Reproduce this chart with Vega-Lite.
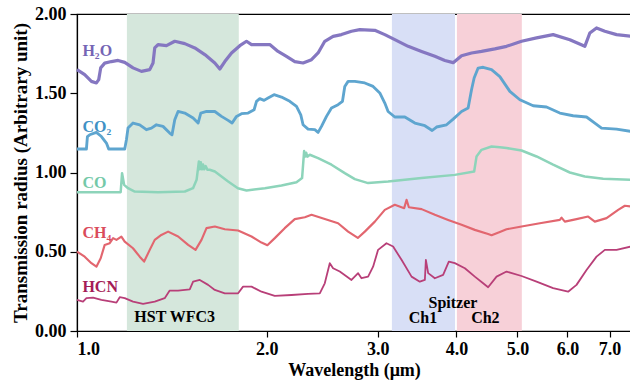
{
  "$schema": "https://vega.github.io/schema/vega-lite/v6.json",
  "width": 554,
  "height": 317,
  "autosize": {"type": "none"},
  "padding": {"left": 77, "top": 14, "right": 0, "bottom": 51},
  "background": "white",
  "view": {"stroke": "black", "strokeWidth": 1.2},
  "config": {
    "font": "Liberation Serif",
    "axis": {"grid": false, "domainColor": "black", "tickColor": "black", "labelColor": "black", "titleColor": "black", "labelFont": "Liberation Serif", "titleFont": "Liberation Serif", "labelFontWeight": "bold", "titleFontWeight": "bold", "labelFontSize": 18, "domainWidth": 1.2, "tickWidth": 1.2}
  },
  "datasets": {
    "bands": [
      {"band": "HST", "start": 1.2, "end": 1.806},
      {"band": "Ch1", "start": 3.16, "end": 3.98},
      {"band": "Ch2", "start": 4.007, "end": 5.08}
    ],
    "spectra": [
      {"m": "H2O", "w": 1.0, "v": 1.649}, {"m": "H2O", "w": 1.0285, "v": 1.617}, {"m": "H2O", "w": 1.054, "v": 1.575}, {"m": "H2O", "w": 1.0735, "v": 1.565}, {"m": "H2O", "w": 1.0826, "v": 1.586}, {"m": "H2O", "w": 1.0904, "v": 1.66}, {"m": "H2O", "w": 1.1065, "v": 1.69}, {"m": "H2O", "w": 1.134, "v": 1.7}, {"m": "H2O", "w": 1.1618, "v": 1.707}, {"m": "H2O", "w": 1.1905, "v": 1.695}, {"m": "H2O", "w": 1.2272, "v": 1.66}, {"m": "H2O", "w": 1.2655, "v": 1.638}, {"m": "H2O", "w": 1.3044, "v": 1.649}, {"m": "H2O", "w": 1.3202, "v": 1.691}, {"m": "H2O", "w": 1.3285, "v": 1.786}, {"m": "H2O", "w": 1.3446, "v": 1.807}, {"m": "H2O", "w": 1.3866, "v": 1.8}, {"m": "H2O", "w": 1.4293, "v": 1.828}, {"m": "H2O", "w": 1.4826, "v": 1.813}, {"m": "H2O", "w": 1.5379, "v": 1.786}, {"m": "H2O", "w": 1.5952, "v": 1.744}, {"m": "H2O", "w": 1.6546, "v": 1.691}, {"m": "H2O", "w": 1.6851, "v": 1.653}, {"m": "H2O", "w": 1.7162, "v": 1.7}, {"m": "H2O", "w": 1.7587, "v": 1.754}, {"m": "H2O", "w": 1.8128, "v": 1.8}, {"m": "H2O", "w": 1.8577, "v": 1.828}, {"m": "H2O", "w": 1.8921, "v": 1.807}, {"m": "H2O", "w": 1.9623, "v": 1.807}, {"m": "H2O", "w": 2.0224, "v": 1.807}, {"m": "H2O", "w": 2.0847, "v": 1.764}, {"m": "H2O", "w": 2.1497, "v": 1.733}, {"m": "H2O", "w": 2.216, "v": 1.7}, {"m": "H2O", "w": 2.2842, "v": 1.691}, {"m": "H2O", "w": 2.3555, "v": 1.712}, {"m": "H2O", "w": 2.413, "v": 1.754}, {"m": "H2O", "w": 2.4727, "v": 1.828}, {"m": "H2O", "w": 2.5489, "v": 1.859}, {"m": "H2O", "w": 2.6284, "v": 1.87}, {"m": "H2O", "w": 2.7263, "v": 1.891}, {"m": "H2O", "w": 2.8103, "v": 1.901}, {"m": "H2O", "w": 2.9686, "v": 1.897}, {"m": "H2O", "w": 3.0791, "v": 1.87}, {"m": "H2O", "w": 3.1937, "v": 1.838}, {"m": "H2O", "w": 3.3534, "v": 1.796}, {"m": "H2O", "w": 3.5218, "v": 1.764}, {"m": "H2O", "w": 3.697, "v": 1.733}, {"m": "H2O", "w": 3.8344, "v": 1.707}, {"m": "H2O", "w": 3.9526, "v": 1.693}, {"m": "H2O", "w": 4.0758, "v": 1.737}, {"m": "H2O", "w": 4.2271, "v": 1.754}, {"m": "H2O", "w": 4.3844, "v": 1.764}, {"m": "H2O", "w": 4.603, "v": 1.78}, {"m": "H2O", "w": 4.8042, "v": 1.796}, {"m": "H2O", "w": 5.075, "v": 1.828}, {"m": "H2O", "w": 5.361, "v": 1.849}, {"m": "H2O", "w": 5.6954, "v": 1.87}, {"m": "H2O", "w": 6.0535, "v": 1.838}, {"m": "H2O", "w": 6.3948, "v": 1.796}, {"m": "H2O", "w": 6.5128, "v": 1.88}, {"m": "H2O", "w": 6.6741, "v": 1.912}, {"m": "H2O", "w": 6.8801, "v": 1.891}, {"m": "H2O", "w": 7.1808, "v": 1.87}, {"m": "H2O", "w": 7.57, "v": 1.859},

      {"m": "CO2", "w": 1.0, "v": 1.148}, {"m": "CO2", "w": 1.035, "v": 1.148}, {"m": "CO2", "w": 1.0388, "v": 1.227}, {"m": "CO2", "w": 1.0475, "v": 1.238}, {"m": "CO2", "w": 1.0735, "v": 1.253}, {"m": "CO2", "w": 1.0933, "v": 1.227}, {"m": "CO2", "w": 1.1135, "v": 1.186}, {"m": "CO2", "w": 1.1228, "v": 1.148}, {"m": "CO2", "w": 1.1905, "v": 1.148}, {"m": "CO2", "w": 1.1979, "v": 1.207}, {"m": "CO2", "w": 1.2049, "v": 1.28}, {"m": "CO2", "w": 1.2272, "v": 1.312}, {"m": "CO2", "w": 1.2575, "v": 1.301}, {"m": "CO2", "w": 1.2886, "v": 1.27}, {"m": "CO2", "w": 1.3124, "v": 1.28}, {"m": "CO2", "w": 1.3366, "v": 1.301}, {"m": "CO2", "w": 1.3692, "v": 1.291}, {"m": "CO2", "w": 1.4031, "v": 1.249}, {"m": "CO2", "w": 1.415, "v": 1.238}, {"m": "CO2", "w": 1.4293, "v": 1.333}, {"m": "CO2", "w": 1.4467, "v": 1.385}, {"m": "CO2", "w": 1.4826, "v": 1.375}, {"m": "CO2", "w": 1.5284, "v": 1.344}, {"m": "CO2", "w": 1.5566, "v": 1.312}, {"m": "CO2", "w": 1.572, "v": 1.375}, {"m": "CO2", "w": 1.6052, "v": 1.385}, {"m": "CO2", "w": 1.6546, "v": 1.385}, {"m": "CO2", "w": 1.6955, "v": 1.354}, {"m": "CO2", "w": 1.737, "v": 1.329}, {"m": "CO2", "w": 1.7625, "v": 1.312}, {"m": "CO2", "w": 1.7911, "v": 1.354}, {"m": "CO2", "w": 1.8241, "v": 1.371}, {"m": "CO2", "w": 1.8686, "v": 1.375}, {"m": "CO2", "w": 1.91, "v": 1.396}, {"m": "CO2", "w": 1.9269, "v": 1.449}, {"m": "CO2", "w": 1.9498, "v": 1.466}, {"m": "CO2", "w": 1.9807, "v": 1.455}, {"m": "CO2", "w": 2.0098, "v": 1.47}, {"m": "CO2", "w": 2.0544, "v": 1.491}, {"m": "CO2", "w": 2.1108, "v": 1.476}, {"m": "CO2", "w": 2.1759, "v": 1.449}, {"m": "CO2", "w": 2.23, "v": 1.417}, {"m": "CO2", "w": 2.2651, "v": 1.364}, {"m": "CO2", "w": 2.2842, "v": 1.301}, {"m": "CO2", "w": 2.3263, "v": 1.274}, {"m": "CO2", "w": 2.3842, "v": 1.27}, {"m": "CO2", "w": 2.413, "v": 1.253}, {"m": "CO2", "w": 2.4432, "v": 1.291}, {"m": "CO2", "w": 2.4883, "v": 1.354}, {"m": "CO2", "w": 2.534, "v": 1.407}, {"m": "CO2", "w": 2.5959, "v": 1.428}, {"m": "CO2", "w": 2.638, "v": 1.449}, {"m": "CO2", "w": 2.6602, "v": 1.543}, {"m": "CO2", "w": 2.6926, "v": 1.575}, {"m": "CO2", "w": 2.7595, "v": 1.575}, {"m": "CO2", "w": 2.8621, "v": 1.565}, {"m": "CO2", "w": 2.9502, "v": 1.543}, {"m": "CO2", "w": 3.0232, "v": 1.502}, {"m": "CO2", "w": 3.0791, "v": 1.438}, {"m": "CO2", "w": 3.1164, "v": 1.385}, {"m": "CO2", "w": 3.1937, "v": 1.35}, {"m": "CO2", "w": 3.3131, "v": 1.35}, {"m": "CO2", "w": 3.4364, "v": 1.312}, {"m": "CO2", "w": 3.5645, "v": 1.295}, {"m": "CO2", "w": 3.6607, "v": 1.265}, {"m": "CO2", "w": 3.7201, "v": 1.287}, {"m": "CO2", "w": 3.8583, "v": 1.301}, {"m": "CO2", "w": 3.9526, "v": 1.337}, {"m": "CO2", "w": 4.0758, "v": 1.385}, {"m": "CO2", "w": 4.1748, "v": 1.407}, {"m": "CO2", "w": 4.2271, "v": 1.522}, {"m": "CO2", "w": 4.2675, "v": 1.596}, {"m": "CO2", "w": 4.3304, "v": 1.659}, {"m": "CO2", "w": 4.4102, "v": 1.664}, {"m": "CO2", "w": 4.5477, "v": 1.649}, {"m": "CO2", "w": 4.6878, "v": 1.605}, {"m": "CO2", "w": 4.8625, "v": 1.512}, {"m": "CO2", "w": 5.0436, "v": 1.459}, {"m": "CO2", "w": 5.2947, "v": 1.421}, {"m": "CO2", "w": 5.5596, "v": 1.413}, {"m": "CO2", "w": 5.8365, "v": 1.375}, {"m": "CO2", "w": 6.127, "v": 1.358}, {"m": "CO2", "w": 6.4347, "v": 1.35}, {"m": "CO2", "w": 6.6329, "v": 1.312}, {"m": "CO2", "w": 6.7977, "v": 1.28}, {"m": "CO2", "w": 7.1808, "v": 1.274}, {"m": "CO2", "w": 7.57, "v": 1.259},

      {"m": "CO", "w": 1.0, "v": 0.876}, {"m": "CO", "w": 1.173, "v": 0.876}, {"m": "CO", "w": 1.179, "v": 0.996}, {"m": "CO", "w": 1.188, "v": 0.922}, {"m": "CO", "w": 1.205, "v": 0.901}, {"m": "CO", "w": 1.235, "v": 0.88}, {"m": "CO", "w": 1.345, "v": 0.876}, {"m": "CO", "w": 1.483, "v": 0.88}, {"m": "CO", "w": 1.528, "v": 0.901}, {"m": "CO", "w": 1.548, "v": 0.954}, {"m": "CO", "w": 1.561, "v": 1.07}, {"m": "CO", "w": 1.566, "v": 1.02}, {"m": "CO", "w": 1.572, "v": 1.065}, {"m": "CO", "w": 1.578, "v": 1.02}, {"m": "CO", "w": 1.585, "v": 1.05}, {"m": "CO", "w": 1.592, "v": 1.02}, {"m": "CO", "w": 1.6, "v": 1.04}, {"m": "CO", "w": 1.61, "v": 1.018}, {"m": "CO", "w": 1.624, "v": 1.017}, {"m": "CO", "w": 1.655, "v": 1.006}, {"m": "CO", "w": 1.737, "v": 0.943}, {"m": "CO", "w": 1.8, "v": 0.901}, {"m": "CO", "w": 1.858, "v": 0.886}, {"m": "CO", "w": 1.987, "v": 0.901}, {"m": "CO", "w": 2.111, "v": 0.918}, {"m": "CO", "w": 2.23, "v": 0.939}, {"m": "CO", "w": 2.276, "v": 0.965}, {"m": "CO", "w": 2.293, "v": 1.135}, {"m": "CO", "w": 2.3, "v": 1.1}, {"m": "CO", "w": 2.31, "v": 1.125}, {"m": "CO", "w": 2.32, "v": 1.1}, {"m": "CO", "w": 2.341, "v": 1.112}, {"m": "CO", "w": 2.413, "v": 1.091}, {"m": "CO", "w": 2.534, "v": 1.049}, {"m": "CO", "w": 2.66, "v": 0.996}, {"m": "CO", "w": 2.76, "v": 0.958}, {"m": "CO", "w": 2.897, "v": 0.933}, {"m": "CO", "w": 3.116, "v": 0.943}, {"m": "CO", "w": 3.522, "v": 0.965}, {"m": "CO", "w": 3.977, "v": 0.985}, {"m": "CO", "w": 4.268, "v": 1.006}, {"m": "CO", "w": 4.305, "v": 1.101}, {"m": "CO", "w": 4.384, "v": 1.143}, {"m": "CO", "w": 4.548, "v": 1.164}, {"m": "CO", "w": 4.688, "v": 1.16}, {"m": "CO", "w": 4.804, "v": 1.154}, {"m": "CO", "w": 5.075, "v": 1.139}, {"m": "CO", "w": 5.361, "v": 1.101}, {"m": "CO", "w": 5.695, "v": 1.049}, {"m": "CO", "w": 6.054, "v": 1.0}, {"m": "CO", "w": 6.395, "v": 0.975}, {"m": "CO", "w": 6.838, "v": 0.96}, {"m": "CO", "w": 7.57, "v": 0.954},

      {"m": "CH4", "w": 1.0, "v": 0.501}, {"m": "CH4", "w": 1.0285, "v": 0.469}, {"m": "CH4", "w": 1.054, "v": 0.428}, {"m": "CH4", "w": 1.0735, "v": 0.406}, {"m": "CH4", "w": 1.0904, "v": 0.459}, {"m": "CH4", "w": 1.1065, "v": 0.543}, {"m": "CH4", "w": 1.127, "v": 0.554}, {"m": "CH4", "w": 1.141, "v": 0.586}, {"m": "CH4", "w": 1.155, "v": 0.575}, {"m": "CH4", "w": 1.176, "v": 0.596}, {"m": "CH4", "w": 1.1905, "v": 0.564}, {"m": "CH4", "w": 1.227, "v": 0.522}, {"m": "CH4", "w": 1.2575, "v": 0.469}, {"m": "CH4", "w": 1.278, "v": 0.438}, {"m": "CH4", "w": 1.3044, "v": 0.512}, {"m": "CH4", "w": 1.3285, "v": 0.575}, {"m": "CH4", "w": 1.361, "v": 0.606}, {"m": "CH4", "w": 1.395, "v": 0.627}, {"m": "CH4", "w": 1.447, "v": 0.596}, {"m": "CH4", "w": 1.501, "v": 0.543}, {"m": "CH4", "w": 1.542, "v": 0.512}, {"m": "CH4", "w": 1.576, "v": 0.575}, {"m": "CH4", "w": 1.605, "v": 0.649}, {"m": "CH4", "w": 1.655, "v": 0.659}, {"m": "CH4", "w": 1.716, "v": 0.642}, {"m": "CH4", "w": 1.8015, "v": 0.634}, {"m": "CH4", "w": 1.892, "v": 0.596}, {"m": "CH4", "w": 1.962, "v": 0.558}, {"m": "CH4", "w": 2.005, "v": 0.541}, {"m": "CH4", "w": 2.06, "v": 0.586}, {"m": "CH4", "w": 2.136, "v": 0.649}, {"m": "CH4", "w": 2.216, "v": 0.706}, {"m": "CH4", "w": 2.299, "v": 0.718}, {"m": "CH4", "w": 2.356, "v": 0.733}, {"m": "CH4", "w": 2.473, "v": 0.706}, {"m": "CH4", "w": 2.596, "v": 0.68}, {"m": "CH4", "w": 2.693, "v": 0.627}, {"m": "CH4", "w": 2.79, "v": 0.587}, {"m": "CH4", "w": 2.862, "v": 0.627}, {"m": "CH4", "w": 2.969, "v": 0.69}, {"m": "CH4", "w": 3.079, "v": 0.764}, {"m": "CH4", "w": 3.194, "v": 0.796}, {"m": "CH4", "w": 3.305, "v": 0.775}, {"m": "CH4", "w": 3.334, "v": 0.828}, {"m": "CH4", "w": 3.362, "v": 0.781}, {"m": "CH4", "w": 3.522, "v": 0.769}, {"m": "CH4", "w": 3.697, "v": 0.733}, {"m": "CH4", "w": 3.881, "v": 0.701}, {"m": "CH4", "w": 4.076, "v": 0.67}, {"m": "CH4", "w": 4.278, "v": 0.638}, {"m": "CH4", "w": 4.491, "v": 0.612}, {"m": "CH4", "w": 4.548, "v": 0.604}, {"m": "CH4", "w": 4.688, "v": 0.625}, {"m": "CH4", "w": 4.804, "v": 0.642}, {"m": "CH4", "w": 5.075, "v": 0.659}, {"m": "CH4", "w": 5.426, "v": 0.68}, {"m": "CH4", "w": 5.837, "v": 0.701}, {"m": "CH4", "w": 5.873, "v": 0.715}, {"m": "CH4", "w": 5.944, "v": 0.69}, {"m": "CH4", "w": 6.204, "v": 0.706}, {"m": "CH4", "w": 6.473, "v": 0.722}, {"m": "CH4", "w": 6.633, "v": 0.69}, {"m": "CH4", "w": 6.923, "v": 0.712}, {"m": "CH4", "w": 7.223, "v": 0.764}, {"m": "CH4", "w": 7.402, "v": 0.79}, {"m": "CH4", "w": 7.57, "v": 0.785},

      {"m": "HCN", "w": 1.0, "v": 0.196}, {"m": "HCN", "w": 1.0222, "v": 0.185}, {"m": "HCN", "w": 1.035, "v": 0.207}, {"m": "HCN", "w": 1.0602, "v": 0.21}, {"m": "HCN", "w": 1.0933, "v": 0.196}, {"m": "HCN", "w": 1.134, "v": 0.185}, {"m": "HCN", "w": 1.155, "v": 0.179}, {"m": "HCN", "w": 1.169, "v": 0.213}, {"m": "HCN", "w": 1.1905, "v": 0.207}, {"m": "HCN", "w": 1.2272, "v": 0.185}, {"m": "HCN", "w": 1.2729, "v": 0.171}, {"m": "HCN", "w": 1.3285, "v": 0.185}, {"m": "HCN", "w": 1.3777, "v": 0.207}, {"m": "HCN", "w": 1.4031, "v": 0.255}, {"m": "HCN", "w": 1.4467, "v": 0.255}, {"m": "HCN", "w": 1.5099, "v": 0.263}, {"m": "HCN", "w": 1.5284, "v": 0.311}, {"m": "HCN", "w": 1.5662, "v": 0.322}, {"m": "HCN", "w": 1.6146, "v": 0.291}, {"m": "HCN", "w": 1.6546, "v": 0.259}, {"m": "HCN", "w": 1.7162, "v": 0.238}, {"m": "HCN", "w": 1.8015, "v": 0.238}, {"m": "HCN", "w": 1.8345, "v": 0.28}, {"m": "HCN", "w": 1.8921, "v": 0.28}, {"m": "HCN", "w": 1.9623, "v": 0.248}, {"m": "HCN", "w": 2.0597, "v": 0.221}, {"m": "HCN", "w": 2.1895, "v": 0.227}, {"m": "HCN", "w": 2.3263, "v": 0.234}, {"m": "HCN", "w": 2.4281, "v": 0.238}, {"m": "HCN", "w": 2.4727, "v": 0.301}, {"m": "HCN", "w": 2.5183, "v": 0.428}, {"m": "HCN", "w": 2.5489, "v": 0.396}, {"m": "HCN", "w": 2.6121, "v": 0.375}, {"m": "HCN", "w": 2.7263, "v": 0.322}, {"m": "HCN", "w": 2.793, "v": 0.365}, {"m": "HCN", "w": 2.8279, "v": 0.333}, {"m": "HCN", "w": 2.8968, "v": 0.343}, {"m": "HCN", "w": 2.9502, "v": 0.406}, {"m": "HCN", "w": 3.0045, "v": 0.512}, {"m": "HCN", "w": 3.0982, "v": 0.554}, {"m": "HCN", "w": 3.1739, "v": 0.533}, {"m": "HCN", "w": 3.2731, "v": 0.449}, {"m": "HCN", "w": 3.3953, "v": 0.343}, {"m": "HCN", "w": 3.4993, "v": 0.311}, {"m": "HCN", "w": 3.5645, "v": 0.322}, {"m": "HCN", "w": 3.5776, "v": 0.449}, {"m": "HCN", "w": 3.6079, "v": 0.365}, {"m": "HCN", "w": 3.697, "v": 0.333}, {"m": "HCN", "w": 3.8105, "v": 0.354}, {"m": "HCN", "w": 3.8905, "v": 0.438}, {"m": "HCN", "w": 3.9773, "v": 0.428}, {"m": "HCN", "w": 4.1254, "v": 0.396}, {"m": "HCN", "w": 4.2784, "v": 0.343}, {"m": "HCN", "w": 4.4102, "v": 0.301}, {"m": "HCN", "w": 4.4914, "v": 0.276}, {"m": "HCN", "w": 4.6318, "v": 0.343}, {"m": "HCN", "w": 4.8042, "v": 0.375}, {"m": "HCN", "w": 5.075, "v": 0.347}, {"m": "HCN", "w": 5.361, "v": 0.311}, {"m": "HCN", "w": 5.6954, "v": 0.27}, {"m": "HCN", "w": 6.0161, "v": 0.248}, {"m": "HCN", "w": 6.2035, "v": 0.291}, {"m": "HCN", "w": 6.4347, "v": 0.385}, {"m": "HCN", "w": 6.6741, "v": 0.469}, {"m": "HCN", "w": 6.8801, "v": 0.512}, {"m": "HCN", "w": 7.1808, "v": 0.512}, {"m": "HCN", "w": 7.57, "v": 0.533}
    ],
    "labels": [
      {"m": "H2O", "text": "H₂O", "w": 1.02, "v": 1.764},
      {"m": "CO2", "text": "CO₂", "w": 1.02, "v": 1.289},
      {"m": "CO", "text": "CO", "w": 1.02, "v": 0.933},
      {"m": "CH4", "text": "CH₄", "w": 1.02, "v": 0.617},
      {"m": "HCN", "text": "HCN", "w": 1.02, "v": 0.28}
    ],
    "notes": [
      {"text": "HST WFC3", "w": 1.429, "v": 0.09},
      {"text": "Spitzer", "w": 3.95, "v": 0.179},
      {"text": "Ch1", "w": 3.54, "v": 0.084},
      {"text": "Ch2", "w": 4.446, "v": 0.084}
    ]
  },
  "layer": [
    {
      "data": {"name": "bands"},
      "mark": {"type": "rect", "opacity": 1},
      "encoding": {
        "x": {"field": "start", "type": "quantitative", "scale": {"type": "log", "domain": [1, 7.57], "nice": false}, "axis": {"values": [1, 2, 3, 4, 5, 6, 7], "format": ".1f", "title": "Wavelength (μm)", "titleFontSize": 18, "titlePadding": 3, "labelPadding": 3, "tickSize": 6, "labelFontSize": 18}},
        "x2": {"field": "end"},
        "color": {"field": "band", "type": "nominal", "scale": {"domain": ["HST", "Ch1", "Ch2"], "range": ["#d5e7dc", "#d8dff6", "#f7d0d8"]}, "legend": null}
      }
    },
    {
      "data": {"name": "spectra"},
      "mark": {"type": "line", "interpolate": "linear", "strokeJoin": "round"},
      "encoding": {
        "x": {"field": "w", "type": "quantitative"},
        "y": {"field": "v", "type": "quantitative", "scale": {"domain": [0, 2], "nice": false}, "axis": {"values": [0, 0.25, 0.5, 0.75, 1, 1.25, 1.5, 1.75, 2], "format": ".2f", "title": "Transmission radius (Arbitrary unit)", "titleFontSize": 19, "titlePadding": 4, "labelPadding": 4, "tickSize": 7, "labelFontSize": 18}},
        "detail": {"field": "m"},
        "color": {"field": "m", "type": "nominal", "scale": {"domain": ["H2O", "CO2", "CO", "CH4", "HCN"], "range": ["#8577c1", "#5ea5cf", "#8dd4ba", "#e2666f", "#b83f78"]}, "legend": null},
        "strokeWidth": {"field": "m", "type": "nominal", "scale": {"domain": ["H2O", "CO2", "CO", "CH4", "HCN"], "range": [3.2, 1.8, 1.8, 1.8, 2.2]}, "legend": null}
      }
    },
    {
      "data": {"name": "labels"},
      "mark": {"type": "text", "align": "left", "baseline": "middle", "font": "Liberation Serif", "fontWeight": "bold", "fontSize": 16},
      "encoding": {
        "x": {"field": "w", "type": "quantitative"},
        "y": {"field": "v", "type": "quantitative"},
        "text": {"field": "text"},
        "color": {"field": "m", "type": "nominal", "scale": {"domain": ["H2O", "CO2", "CO", "CH4", "HCN"], "range": ["#7565b5", "#3f91c5", "#74c9a8", "#da4b5b", "#a51c56"]}, "legend": null}
      }
    },
    {
      "data": {"name": "notes"},
      "mark": {"type": "text", "align": "center", "baseline": "middle", "font": "Liberation Serif", "fontWeight": "bold", "fontSize": 16, "color": "black"},
      "encoding": {
        "x": {"field": "w", "type": "quantitative"},
        "y": {"field": "v", "type": "quantitative"},
        "text": {"field": "text"}
      }
    }
  ],
  "resolve": {"scale": {"color": "independent"}}
}
